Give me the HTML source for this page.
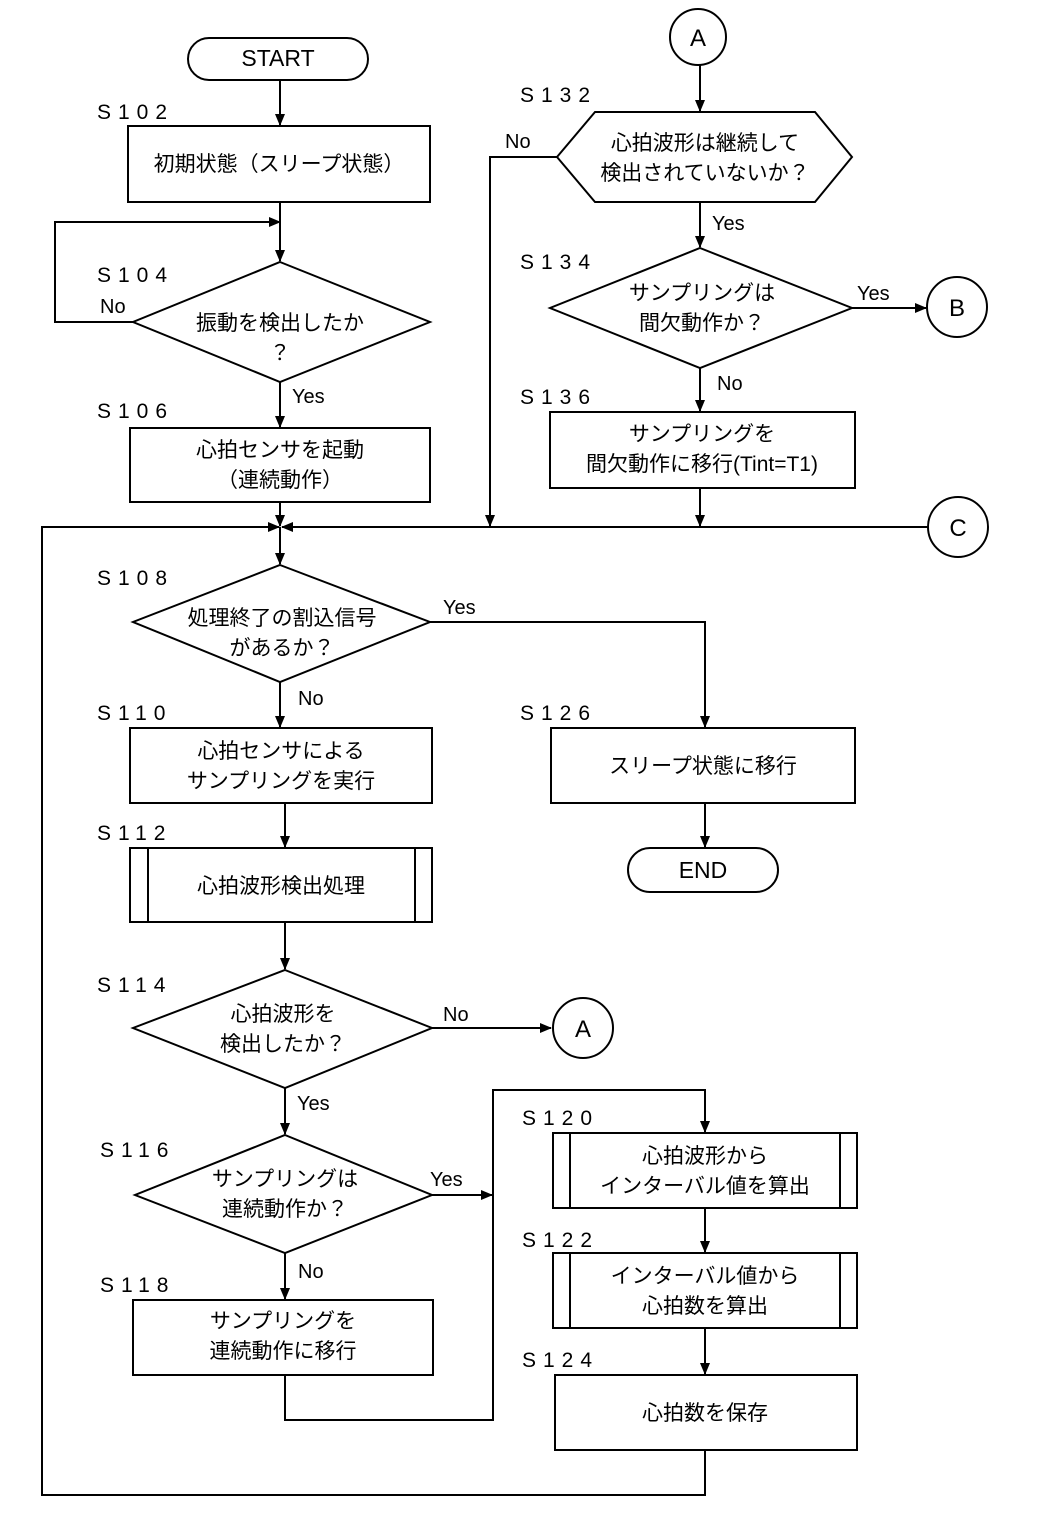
<!DOCTYPE html>
<html><head><meta charset="utf-8"><style>
html,body{margin:0;padding:0;background:#fff}
svg text{font-family:"Liberation Sans","Noto Sans CJK JP",sans-serif;fill:#000}
</style></head><body>
<svg width="1055" height="1512" viewBox="0 0 1055 1512" xmlns="http://www.w3.org/2000/svg">
<defs><marker id="a" markerWidth="12" markerHeight="12" refX="11" refY="6" orient="auto" markerUnits="userSpaceOnUse"><path d="M0,1 L12,6 L0,11 Z" fill="#000"/></marker></defs>
<g stroke="#000" stroke-width="2" fill="none">
<rect x="188" y="38" width="180" height="42" rx="21"/>
<line x1="280" y1="80" x2="280" y2="125" marker-end="url(#a)"/>
<rect x="128" y="126" width="302" height="76"/>
<line x1="280" y1="202" x2="280" y2="261" marker-end="url(#a)"/>
<polyline points="133,322 55,322 55,222 280,222" marker-end="url(#a)"/>
<polygon points="280,262 430,322 280,382 133,322"/>
<line x1="280" y1="382" x2="280" y2="427" marker-end="url(#a)"/>
<rect x="130" y="428" width="300" height="74"/>
<line x1="280" y1="502" x2="280" y2="526" marker-end="url(#a)"/>
<polyline points="705,1450 705,1495 42,1495 42,527 279,527" marker-end="url(#a)"/>
<line x1="928" y1="527" x2="282" y2="527" marker-end="url(#a)"/>
<line x1="280" y1="527" x2="280" y2="564" marker-end="url(#a)"/>
<polygon points="280,565 430,622 280,682 133,622"/>
<polyline points="430,622 705,622 705,727" marker-end="url(#a)"/>
<line x1="280" y1="682" x2="280" y2="727" marker-end="url(#a)"/>
<rect x="130" y="728" width="302" height="75"/>
<rect x="551" y="728" width="304" height="75"/>
<line x1="705" y1="803" x2="705" y2="847" marker-end="url(#a)"/>
<rect x="628" y="848" width="150" height="44" rx="22"/>
<line x1="285" y1="803" x2="285" y2="847" marker-end="url(#a)"/>
<rect x="130" y="848" width="302" height="74"/><line x1="148" y1="848" x2="148" y2="922"/><line x1="415" y1="848" x2="415" y2="922"/>
<line x1="285" y1="922" x2="285" y2="969" marker-end="url(#a)"/>
<polygon points="285,970 432,1028 285,1088 133,1028"/>
<line x1="432" y1="1028" x2="551" y2="1028" marker-end="url(#a)"/>
<circle cx="583" cy="1028" r="30"/>
<line x1="285" y1="1088" x2="285" y2="1134" marker-end="url(#a)"/>
<polygon points="285,1135 432,1195 285,1253 135,1195"/>
<line x1="432" y1="1195" x2="492" y2="1195" marker-end="url(#a)"/>
<line x1="285" y1="1253" x2="285" y2="1299" marker-end="url(#a)"/>
<rect x="133" y="1300" width="300" height="75"/>
<polyline points="285,1375 285,1420 493,1420 493,1090 705,1090 705,1132" marker-end="url(#a)"/>
<rect x="553" y="1133" width="304" height="75"/><line x1="570" y1="1133" x2="570" y2="1208"/><line x1="840" y1="1133" x2="840" y2="1208"/>
<line x1="705" y1="1208" x2="705" y2="1252" marker-end="url(#a)"/>
<rect x="553" y="1253" width="304" height="75"/><line x1="570" y1="1253" x2="570" y2="1328"/><line x1="840" y1="1253" x2="840" y2="1328"/>
<line x1="705" y1="1328" x2="705" y2="1374" marker-end="url(#a)"/>
<rect x="555" y="1375" width="302" height="75"/>
<circle cx="698" cy="37" r="28"/>
<line x1="700" y1="65" x2="700" y2="111" marker-end="url(#a)"/>
<polygon points="595,112 815,112 852,157 815,202 595,202 557,157"/>
<polyline points="557,157 490,157 490,526" marker-end="url(#a)"/>
<line x1="700" y1="202" x2="700" y2="247" marker-end="url(#a)"/>
<polygon points="700,248 852,308 700,368 550,308"/>
<line x1="852" y1="308" x2="926" y2="308" marker-end="url(#a)"/>
<circle cx="957" cy="307" r="30"/>
<line x1="700" y1="368" x2="700" y2="411" marker-end="url(#a)"/>
<rect x="550" y="412" width="305" height="76"/>
<line x1="700" y1="488" x2="700" y2="526" marker-end="url(#a)"/>
<circle cx="958" cy="527" r="30"/>
</g>
<g font-size="21" text-anchor="middle">
<text x="278" y="66" font-size="23">START</text>
<text x="703" y="878" font-size="23">END</text>
<text x="698" y="46" font-size="24">A</text>
<text x="583" y="1037" font-size="24">A</text>
<text x="957" y="316" font-size="24">B</text>
<text x="958" y="536" font-size="24">C</text>
<text x="279" y="171">初期状態（スリープ状態）</text>
<text x="280" y="330">振動を検出したか</text>
<text x="280" y="360">？</text>
<text x="280" y="457">心拍センサを起動</text>
<text x="280" y="487">（連続動作）</text>
<text x="282" y="625">処理終了の割込信号</text>
<text x="282" y="655">があるか？</text>
<text x="281" y="758">心拍センサによる</text>
<text x="281" y="788">サンプリングを実行</text>
<text x="703" y="773">スリープ状態に移行</text>
<text x="281" y="893">心拍波形検出処理</text>
<text x="283" y="1021">心拍波形を</text>
<text x="283" y="1051">検出したか？</text>
<text x="285" y="1186">サンプリングは</text>
<text x="285" y="1216">連続動作か？</text>
<text x="283" y="1328">サンプリングを</text>
<text x="283" y="1358">連続動作に移行</text>
<text x="705" y="1163">心拍波形から</text>
<text x="705" y="1193">インターバル値を算出</text>
<text x="705" y="1283">インターバル値から</text>
<text x="705" y="1313">心拍数を算出</text>
<text x="705" y="1420">心拍数を保存</text>
<text x="705" y="150">心拍波形は継続して</text>
<text x="705" y="180">検出されていないか？</text>
<text x="702" y="300">サンプリングは</text>
<text x="702" y="330">間欠動作か？</text>
<text x="702" y="441">サンプリングを</text>
<text x="702" y="471">間欠動作に移行(Tint=T1)</text>
</g>
<g font-size="21" letter-spacing="7">
<text x="97" y="119">S102</text>
<text x="97" y="282">S104</text>
<text x="97" y="418">S106</text>
<text x="97" y="585">S108</text>
<text x="97" y="720">S110</text>
<text x="97" y="840">S112</text>
<text x="97" y="992">S114</text>
<text x="100" y="1157">S116</text>
<text x="100" y="1292">S118</text>
<text x="520" y="102">S132</text>
<text x="520" y="269">S134</text>
<text x="520" y="404">S136</text>
<text x="520" y="720">S126</text>
<text x="522" y="1125">S120</text>
<text x="522" y="1247">S122</text>
<text x="522" y="1367">S124</text>
</g>
<g font-size="20">
<text x="100" y="313">No</text>
<text x="292" y="403">Yes</text>
<text x="443" y="614">Yes</text>
<text x="298" y="705">No</text>
<text x="443" y="1021">No</text>
<text x="297" y="1110">Yes</text>
<text x="430" y="1186">Yes</text>
<text x="298" y="1278">No</text>
<text x="505" y="148">No</text>
<text x="712" y="230">Yes</text>
<text x="857" y="300">Yes</text>
<text x="717" y="390">No</text>
</g>
</svg>
</body></html>
